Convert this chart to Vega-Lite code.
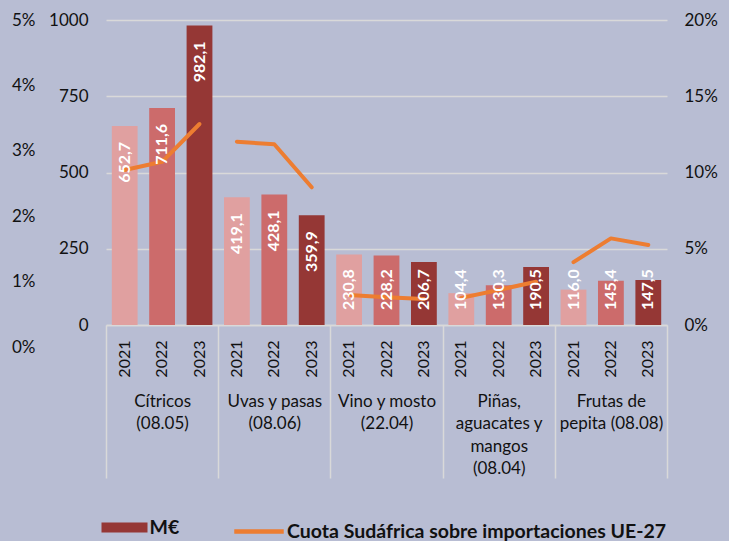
{
  "$schema": "https://vega.github.io/schema/vega-lite/v6.json",
  "width": 561,
  "height": 305,
  "autosize": {"type": "none"},
  "padding": {"left": 106, "top": 20, "right": 62, "bottom": 216},
  "background": "#b8bdd3",
  "config": {
    "view": {"stroke": null},
    "font": "Lato",
    "locale": {"number": {"decimal": ",", "thousands": ".", "grouping": [3], "currency": ["", " €"]}},
    "axis": {"labelFont": "Lato", "labelColor": "#111111", "title": null}
  },
  "data": {
    "values": [
      {"cat": "Cítricos|(08.05)", "key": "Cítricos 2021", "year": "2021", "value": 652.7, "share": 0.1016},
      {"cat": "Cítricos|(08.05)", "key": "Cítricos 2022", "year": "2022", "value": 711.6, "share": 0.107},
      {"cat": "Cítricos|(08.05)", "key": "Cítricos 2023", "year": "2023", "value": 982.1, "share": 0.1318},
      {"cat": "Uvas y pasas|(08.06)", "key": "Uvas 2021", "year": "2021", "value": 419.1, "share": 0.1202},
      {"cat": "Uvas y pasas|(08.06)", "key": "Uvas 2022", "year": "2022", "value": 428.1, "share": 0.1185},
      {"cat": "Uvas y pasas|(08.06)", "key": "Uvas 2023", "year": "2023", "value": 359.9, "share": 0.0903},
      {"cat": "Vino y mosto|(22.04)", "key": "Vino 2021", "year": "2021", "value": 230.8, "share": 0.0197},
      {"cat": "Vino y mosto|(22.04)", "key": "Vino 2022", "year": "2022", "value": 228.2, "share": 0.0182},
      {"cat": "Vino y mosto|(22.04)", "key": "Vino 2023", "year": "2023", "value": 206.7, "share": 0.017},
      {"cat": "Piñas,|aguacates y|mangos|(08.04)", "key": "Piñas 2021", "year": "2021", "value": 104.4, "share": 0.0178},
      {"cat": "Piñas,|aguacates y|mangos|(08.04)", "key": "Piñas 2022", "year": "2022", "value": 130.3, "share": 0.023},
      {"cat": "Piñas,|aguacates y|mangos|(08.04)", "key": "Piñas 2023", "year": "2023", "value": 190.5, "share": 0.0284},
      {"cat": "Frutas de|pepita (08.08)", "key": "Frutas 2021", "year": "2021", "value": 116.0, "share": 0.0412},
      {"cat": "Frutas de|pepita (08.08)", "key": "Frutas 2022", "year": "2022", "value": 145.4, "share": 0.0568},
      {"cat": "Frutas de|pepita (08.08)", "key": "Frutas 2023", "year": "2023", "value": 147.5, "share": 0.0525}
    ]
  },
  "layer": [
    {
      "mark": {"type": "bar"},
      "encoding": {
        "x": {
          "field": "key", "type": "nominal", "sort": null,
          "scale": {"paddingInner": 0.31, "paddingOuter": 0.155},
          "axis": {
            "labelExpr": "slice(datum.label, -4)",
            "labelAngle": -90, "labelAlign": "right", "labelBaseline": "middle",
            "labelFontSize": 16, "labelPadding": 15,
            "ticks": false, "tickSize": 0,
            "domain": true, "domainColor": "#d9d9d9", "domainWidth": 1.5
          }
        },
        "y": {
          "field": "value", "type": "quantitative",
          "scale": {"domain": [0, 1000], "nice": false},
          "axis": {
            "values": [0, 250, 500, 750, 1000], "format": "d",
            "labelFontSize": 17, "labelPadding": 18,
            "ticks": false, "tickSize": 0, "domain": false,
            "grid": true, "gridColor": "#d9d9d9", "gridWidth": 1.3
          }
        },
        "color": {
          "field": "year", "type": "nominal",
          "scale": {"domain": ["2021", "2022", "2023"], "range": ["#e0a0a0", "#cc6b6b", "#953735"]},
          "legend": null
        }
      }
    },
    {
      "mark": {"type": "line", "strokeWidth": 4, "strokeCap": "round", "strokeJoin": "round"},
      "encoding": {
        "x": {
          "field": "key", "type": "nominal", "sort": null,
          "scale": {"paddingInner": 0.31, "paddingOuter": 0.155},
          "axis": null
        },
        "y": {
          "field": "share", "type": "quantitative",
          "scale": {"domain": [0, 0.2], "nice": false},
          "axis": {
            "orient": "right", "values": [0, 0.05, 0.1, 0.15, 0.2], "format": ".0%",
            "labelFontSize": 17, "labelPadding": 17,
            "ticks": false, "tickSize": 0, "domain": false, "grid": false
          }
        },
        "detail": {"field": "cat", "type": "nominal"},
        "stroke": {
          "datum": "Cuota Sudáfrica sobre importaciones UE-27", "type": "nominal",
          "scale": {"range": ["#ed7d31"]},
          "legend": {
            "orient": "none", "legendX": 126, "legendY": 484.5, "padding": 0, "title": null,
            "symbolType": "stroke", "symbolSize": 2450, "symbolStrokeWidth": 4.5,
            "labelFont": "Lato", "labelFontWeight": "bold", "labelFontSize": 19.5, "labelColor": "#111111",
            "labelOffset": 1, "labelLimit": 700
          }
        }
      }
    },
    {
      "encoding": {
        "x": {
          "field": "key", "type": "nominal", "sort": null,
          "scale": {"paddingInner": 0.31, "paddingOuter": 0.155},
          "axis": null
        },
        "y": {
          "field": "value", "type": "quantitative",
          "scale": {"domain": [0, 1000], "nice": false},
          "axis": null
        }
      },
      "layer": [
        {
          "transform": [{"filter": "datum.value >= 300"}],
          "mark": {"type": "text", "angle": 270, "align": "right", "baseline": "middle", "dx": -16, "color": "#ffffff", "fontWeight": "bold", "fontSize": 16, "font": "Lato"},
          "encoding": {
            "text": {"field": "value", "type": "quantitative", "format": ".1f"}
          }
        },
        {
          "transform": [{"filter": "datum.value < 300"}],
          "mark": {"type": "text", "angle": 270, "align": "left", "baseline": "middle", "dx": 15, "color": "#ffffff", "fontWeight": "bold", "fontSize": 16, "font": "Lato"},
          "encoding": {
            "y": {"datum": 0, "type": "quantitative"},
            "text": {"field": "value", "type": "quantitative", "format": ".1f"}
          }
        }
      ]
    },
    {
      "mark": {"type": "point", "filled": true, "size": 0},
      "encoding": {
        "x": {
          "field": "cat", "type": "nominal", "sort": null,
          "scale": {"paddingInner": 0, "paddingOuter": 0},
          "axis": {
            "orient": "bottom",
            "labelExpr": "split(datum.label, '|')",
            "labelAngle": 0, "labelAlign": "center", "labelBaseline": "top",
            "labelFontSize": 17, "labelLineHeight": 22.5, "labelPadding": -85,
            "labelLimit": 200,
            "ticks": true, "tickBand": "extent", "tickSize": 153, "tickColor": "#d9d9d9", "tickWidth": 1.5,
            "domain": false, "grid": false
          }
        },
        "y": {
          "field": "share", "type": "quantitative",
          "scale": {"domain": [0, 0.05], "range": [327, 0], "nice": false},
          "axis": {
            "orient": "left", "offset": 66, "values": [0, 0.01, 0.02, 0.03, 0.04, 0.05], "format": ".0%",
            "labelFontSize": 17, "labelPadding": 5,
            "ticks": false, "tickSize": 0, "domain": false, "grid": false
          }
        },
        "fill": {
          "datum": "M€", "type": "nominal",
          "scale": {"range": ["#953735"]},
          "legend": {
            "orient": "none", "legendX": -4.5, "legendY": 484.5, "padding": 0, "title": null,
            "symbolType": "M-1,-0.22H1V0.22H-1Z", "symbolSize": 2116, "symbolStrokeWidth": 0, "symbolOpacity": 1,
            "labelFont": "Lato", "labelFontWeight": "bold", "labelFontSize": 19.5, "labelColor": "#111111",
            "labelOffset": 2, "labelLimit": 200
          }
        }
      }
    }
  ],
  "resolve": {"scale": {"x": "independent", "y": "independent"}}
}
